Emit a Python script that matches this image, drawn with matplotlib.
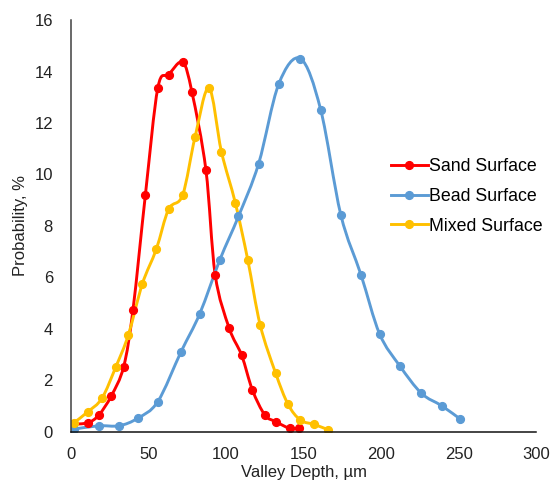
import numpy as np
import matplotlib
matplotlib.use('Agg')
import matplotlib.pyplot as plt
from matplotlib.path import Path
from matplotlib.patches import PathPatch
from matplotlib.lines import Line2D

plt.rcParams['font.family'] = ['Liberation Sans', 'DejaVu Sans']

# valley depth (um) and probability (%)
sand_x = [1, 11, 18, 26, 34, 40, 48, 56, 63, 72, 78, 87, 93, 102, 110, 117, 125, 132, 141, 147]
sand_y = [0.29, 0.35, 0.65, 1.39, 2.53, 4.74, 9.21, 13.36, 13.88, 14.36, 13.2, 10.18, 6.1, 4.03,
          2.98, 1.62, 0.65, 0.39, 0.13, 0.13]

bead_x = [2, 18, 31, 43, 56, 71, 83, 96, 108, 121, 134, 148, 161, 174, 187, 199, 212, 226, 239, 251]
bead_y = [0.1, 0.23, 0.23, 0.52, 1.17, 3.11, 4.58, 6.68, 8.37, 10.42, 13.52, 14.5, 12.52, 8.43,
          6.1, 3.8, 2.56, 1.49, 1.01, 0.49]

mixed_x = [2, 11, 20, 29, 37, 46, 55, 63, 72, 80, 89, 97, 106, 114, 122, 132, 140, 148, 157, 166]
mixed_y = [0.35, 0.78, 1.3, 2.53, 3.76, 5.74, 7.09, 8.65, 9.2, 11.45, 13.36, 10.89, 8.89, 6.68,
           4.15, 2.27, 1.06, 0.45, 0.28, 0.07]

series = [
    ("Sand Surface", sand_x, sand_y, "#ff0000"),
    ("Bead Surface", bead_x, bead_y, "#5b9bd5"),
    ("Mixed Surface", mixed_x, mixed_y, "#ffc000"),
]


def smooth_path(x, y):
    # excel-like smoothed line: cubic bezier segments through the points
    p = np.column_stack((x, y)).astype(float)
    n = len(p)
    verts = [p[0]]
    codes = [Path.MOVETO]
    for i in range(n - 1):
        p0 = p[i - 1] if i > 0 else p[i]
        p3 = p[i + 2] if i + 2 < n else p[i + 1]
        c1 = p[i] + (p[i + 1] - p0) / 6.0
        c2 = p[i + 1] - (p3 - p[i]) / 6.0
        verts += [c1, c2, p[i + 1]]
        codes += [Path.CURVE4] * 3
    return Path(verts, codes)


fig = plt.figure(figsize=(5.5, 4.9), dpi=100)
ax = fig.add_axes([0.129, 0.119, 0.846, 0.840])

handles = []
for name, x, y, col in series:
    ax.add_patch(PathPatch(smooth_path(x, y), facecolor='none', edgecolor=col, lw=2.1,
                           capstyle='round', joinstyle='round'))
    ax.plot(x, y, 'o', color=col, markersize=5.6, linestyle='none')
    handles.append(Line2D([], [], color=col, lw=2.1, marker='o', markersize=5.6))

ax.set_xlim(0, 300)
ax.set_ylim(0, 16)
ax.set_xticks(np.arange(0, 301, 50))
ax.set_yticks(np.arange(0, 17, 2))
ax.tick_params(length=0, labelsize=12, colors='#222222')
ax.tick_params(axis='x', pad=11)
ax.tick_params(axis='y', pad=13)

for s in ['top', 'right']:
    ax.spines[s].set_visible(False)
ax.spines['left'].set_color('#404040')
ax.spines['bottom'].set_color('#111111')
ax.spines['left'].set_linewidth(1.1)
ax.spines['bottom'].set_linewidth(1.1)

ax.set_xlabel("Valley Depth, µm", fontsize=12, color='#222222', labelpad=2.5)
ax.set_ylabel("Probability, %", fontsize=12, color='#222222', labelpad=4.5)

fig.legend(handles, [s[0] for s in series], loc='upper left',
           bbox_to_anchor=(0.7105, 0.677), bbox_transform=fig.transFigure,
           frameon=False, fontsize=12.8, handlelength=2.08, handletextpad=0.05,
           labelspacing=0.71, borderpad=0, borderaxespad=0)

fig.savefig('out.png', dpi=100)
